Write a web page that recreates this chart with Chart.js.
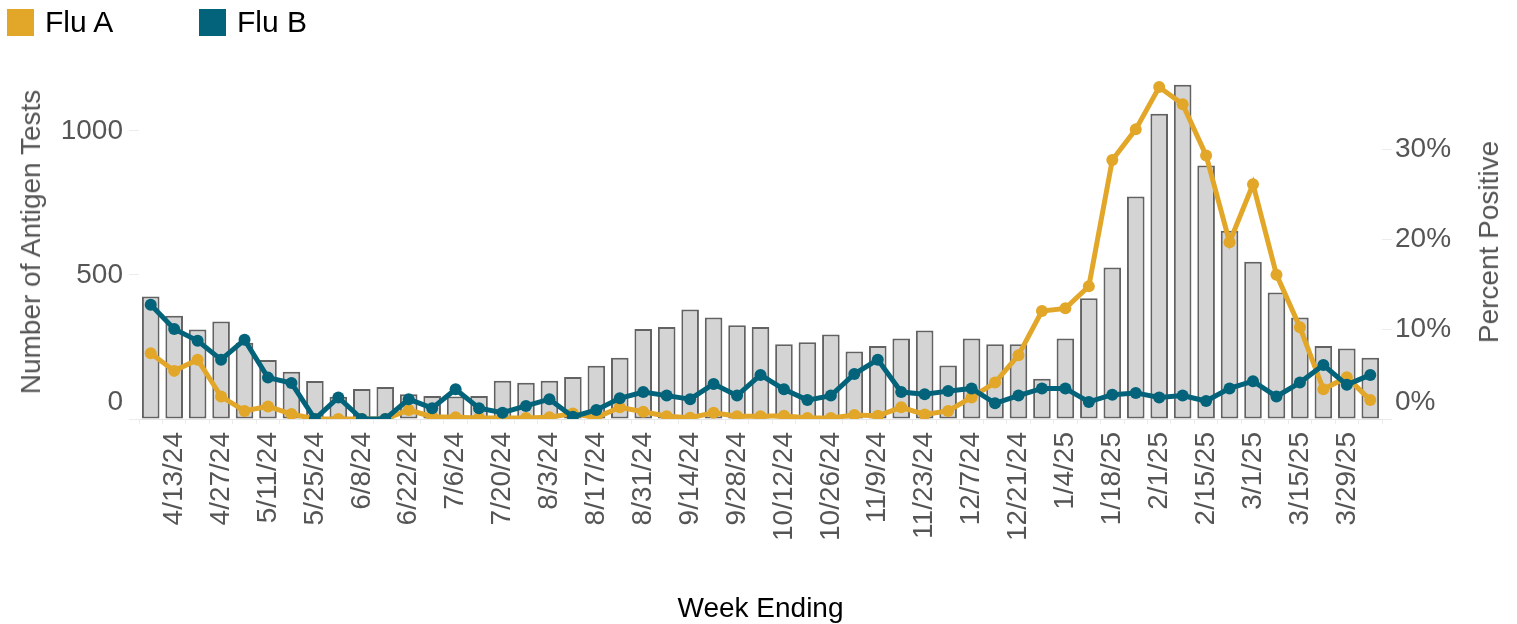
<!DOCTYPE html>
<html lang="en">
<head>
<meta charset="UTF-8">
<title>Flu Antigen Tests</title>
<script src="https://cdn.jsdelivr.net/npm/chart.js"></script>
<style>
  body { margin: 0; background: #fff; font-family: "Liberation Sans", Arial, sans-serif; }
  #wrap { position: relative; width: 1517px; height: 624px; }
  .legend { position: absolute; top: 7px; left: 7px; display: flex; font-size: 30px; color: #000; }
  .item { display: flex; align-items: center; height: 30px; }
  .swatch { width: 27px; height: 27px; margin-right: 11px; }
  .ytitle { position: absolute; font-size: 28px; color: #555; white-space: nowrap;
            transform: translate(-50%, -50%) rotate(-90deg); }
</style>
</head>
<body>
<div id="wrap">
  <div class="legend">
    <div class="item" style="width:192px"><span class="swatch" style="background:#E2A629"></span>Flu A</div>
    <div class="item"><span class="swatch" style="background:#03637A"></span>Flu B</div>
  </div>
  <div class="ytitle" style="left:31px; top:242px">Number of Antigen Tests</div>
  <div class="ytitle" style="left:1489px; top:242px">Percent Positive</div>
  <canvas id="chart"></canvas>
</div>
<script>
// week ending dates
const weeks = [
  '4/6/24', '4/13/24', '4/20/24', '4/27/24', '5/4/24', '5/11/24', '5/18/24', '5/25/24',
  '6/1/24', '6/8/24', '6/15/24', '6/22/24', '6/29/24', '7/6/24', '7/13/24', '7/20/24',
  '7/27/24', '8/3/24', '8/10/24', '8/17/24', '8/24/24', '8/31/24', '9/7/24', '9/14/24',
  '9/21/24', '9/28/24', '10/5/24', '10/12/24', '10/19/24', '10/26/24', '11/2/24', '11/9/24',
  '11/16/24', '11/23/24', '11/30/24', '12/7/24', '12/14/24', '12/21/24', '12/28/24', '1/4/25',
  '1/11/25', '1/18/25', '1/25/25', '2/1/25', '2/8/25', '2/15/25', '2/22/25', '3/1/25',
  '3/8/25', '3/15/25', '3/22/25', '3/29/25', '4/5/25'
];

// labels printed on the x axis (every other week)
const tickLabels = [
  '4/13/24', '4/27/24', '5/11/24', '5/25/24', '6/8/24', '6/22/24', '7/6/24', '7/20/24',
  '8/3/24', '8/17/24', '8/31/24', '9/14/24', '9/28/24', '10/12/24', '10/26/24', '11/9/24',
  '11/23/24', '12/7/24', '12/21/24', '1/4/25', '1/18/25', '2/1/25', '2/15/25', '3/1/25',
  '3/15/25', '3/29/25'
];

const testTicks = [0, 500, 1000];
const pctTicks = [0, 10, 20, 30];

// number of antigen tests per week
const antigenTests = [
  425, 358, 311, 338, 265, 205, 164, 132, 77, 104, 111, 86, 80, 78, 80, 133,
  126, 133, 146, 185, 213, 312, 319, 380, 352, 325, 319, 259, 266, 293, 234, 253,
  279, 307, 186, 279, 259, 259, 140, 279, 419, 526, 772, 1059, 1160, 880, 653, 546,
  439, 352, 253, 245, 213
];

// percent positive
const fluA = [
  7.3, 5.35, 6.6, 2.5, 0.9, 1.4, 0.55, 0, 0, 0, 0, 1.0, 0.25, 0.2, 0.1, 0.1,
  0.1, 0.2, 0.6, 0.15, 1.3, 0.8, 0.3, 0.15, 0.7, 0.3, 0.3, 0.35, 0.1, 0.1, 0.45, 0.35,
  1.3, 0.5, 0.9, 2.4, 4.05, 7.1, 12.0, 12.3, 14.75, 28.8, 32.2, 36.9, 35.0, 29.3, 19.65, 26.1,
  16.05, 10.2, 3.3, 4.65, 2.1
];
const fluB = [
  12.7, 10.0, 8.7, 6.6, 8.8, 4.6, 4.0, 0, 2.4, 0, 0, 2.2, 1.2, 3.3, 1.2, 0.7,
  1.45, 2.2, 0.25, 1.0, 2.3, 3.0, 2.6, 2.2, 3.9, 2.6, 4.9, 3.3, 2.1, 2.6, 5.0, 6.6,
  3.0, 2.75, 3.1, 3.4, 1.75, 2.6, 3.4, 3.4, 1.9, 2.7, 2.9, 2.4, 2.6, 2.0, 3.4, 4.2,
  2.5, 4.05, 6.0, 3.8, 4.9
];

const tickFont = { family: '"Liberation Sans", Arial, sans-serif', size: 28 };
const faint = '#ececec';

function lineSet(label, data, color, order) {
  return {
    type: 'line',
    label: label,
    data: data,
    yAxisID: 'pct',
    borderColor: color,
    backgroundColor: color,
    borderWidth: 5,
    pointRadius: 6,
    pointBorderWidth: 0,
    tension: 0,
    order: order
  };
}

// the zero labels sit a little above the baseline in the original
const zeroLabels = {
  id: 'zeroLabels',
  afterDraw(chart) {
    const c = chart.ctx;
    const left = chart.scales.tests, right = chart.scales.pct;
    c.save();
    c.font = '28px "Liberation Sans", Arial, sans-serif';
    c.fillStyle = '#555';
    c.textBaseline = 'middle';
    c.textAlign = 'right';
    c.fillText('0', left.right - 16, left.getPixelForValue(0) - 17);
    c.textAlign = 'left';
    c.fillText('0%', right.left + 13, right.getPixelForValue(0) - 17);
    c.restore();
  }
};

new Chart(document.getElementById('chart'), {
  data: {
    labels: weeks,
    datasets: [
      lineSet('Flu B', fluB, '#03637A', 1),
      lineSet('Flu A', fluA, '#E2A629', 2),
      {
        type: 'bar',
        label: 'Number of Antigen Tests',
        data: antigenTests,
        yAxisID: 'tests',
        backgroundColor: '#d4d4d4',
        borderColor: '#626262',
        borderWidth: 2,
        borderSkipped: false,
        categoryPercentage: 1,
        barPercentage: 0.75,
        order: 3
      }
    ]
  },
  plugins: [zeroLabels],
  options: {
    responsive: true,
    maintainAspectRatio: false,
    animation: false,
    layout: { padding: { top: 79, left: 0, right: 0, bottom: 0 } },
    plugins: { legend: { display: false }, tooltip: { enabled: false } },
    scales: {
      x: {
        offset: true,
        grid: { drawOnChartArea: false, color: faint, tickLength: 5, offset: true },
        border: { color: '#e6e6e6' },
        ticks: {
          autoSkip: false,
          minRotation: 90,
          maxRotation: 90,
          padding: 8,
          color: '#555',
          font: tickFont,
          callback: function (v) {
            const w = weeks[v];
            return tickLabels.includes(w) ? w : '';
          }
        },
        title: {
          display: true,
          text: 'Week Ending',
          color: '#000',
          font: tickFont,
          padding: { top: 0, bottom: -2 }
        },
        afterFit: function (s) { s.height = 205; }
      },
      tests: {
        type: 'linear',
        position: 'left',
        min: 0,
        max: 1180,
        grid: { drawOnChartArea: false, color: faint, tickLength: 10 },
        border: { display: false },
        afterBuildTicks: function (s) { s.ticks = testTicks.map(v => ({ value: v })); },
        ticks: {
          padding: 6,
          color: '#555',
          font: tickFont,
          callback: function (v) { return v === 0 ? '' : String(v); }
        },
        afterFit: function (s) { s.width = 139; }
      },
      pct: {
        type: 'linear',
        position: 'right',
        min: 0,
        max: 37.8,
        grid: { drawOnChartArea: false, color: faint, tickLength: 10 },
        border: { display: false },
        afterBuildTicks: function (s) { s.ticks = pctTicks.map(v => ({ value: v })); },
        ticks: {
          padding: 3,
          color: '#555',
          font: tickFont,
          callback: function (v) { return v === 0 ? '' : v + '%'; }
        },
        afterFit: function (s) { s.width = 135; }
      }
    }
  }
});
</script>
</body>
</html>
